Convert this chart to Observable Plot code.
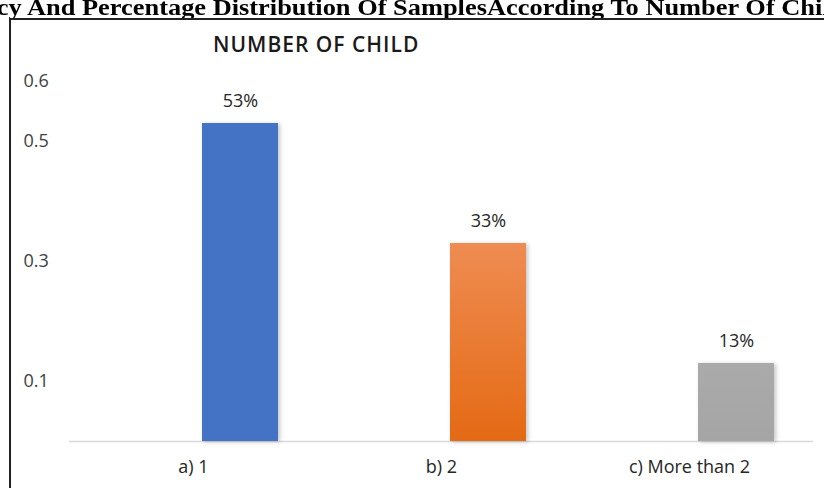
<!DOCTYPE html>
<html>
<head>
<meta charset="utf-8">
<script src="https://cdn.jsdelivr.net/npm/d3@7"></script>
<script src="https://cdn.jsdelivr.net/npm/@observablehq/plot@0.6"></script>
<style>
  html, body { margin: 0; padding: 0; background: #fff; }
  #page { position: relative; width: 824px; height: 488px; overflow: hidden; background: #fff; }
  #doc-title { position: absolute; top: -6px; white-space: nowrap; font-family: "Liberation Serif", "Times New Roman", serif; font-weight: bold; color: #000; transform-origin: 0 0; }
  #frame { position: absolute; left: 9px; top: 18px; width: 900px; height: 600px; border-left: 2px solid #222; border-top: 2px solid #222; box-sizing: border-box; }
  #chart-title { position: absolute; left: 213px; top: 30px; font-family: "Open Sans", sans-serif; font-weight: 600; font-size: 21px; letter-spacing: 1px; color: #1a1a1a; z-index: 2; white-space: nowrap; }
  #chart { position: absolute; left: 0; top: 0; z-index: 1; }
</style>
</head>
<body>
<div id="page">
  <div id="doc-title"></div>
  <div id="frame"></div>
  <div id="chart-title"></div>
  <div id="chart"></div>
</div>
<script>
// ---- data ----
const docTitle = "Frequency And Percentage Distribution Of SamplesAccording To Number Of Child";
const chartTitle = "NUMBER OF CHILD";
const categories = ["a) 1", "b) 2", "c) More than 2"];
const values = [0.53, 0.33, 0.13];
const valueLabels = ["53%", "33%", "13%"];
const yTickValues = [0.1, 0.3, 0.5, 0.6];

// ---- styles ----
const barFills = ["#4472C4", "url(#gradOrange)", "url(#gradGray)"];

const data = categories.map((c, i) => ({cat: c, value: values[i], label: valueLabels[i], fill: barFills[i]}));

// Document title (cropped at both sides, like the reference)
const dt = document.getElementById("doc-title");
const fontSize = 24;
const stretch = 1.1;
dt.style.fontSize = fontSize + "px";
dt.textContent = docTitle;
const ctx = document.createElement("canvas").getContext("2d");
ctx.font = `bold ${fontSize}px "Liberation Serif"`;
const offset = (ctx.measureText("Frequen").width + 3) * stretch;
dt.style.left = (-offset) + "px";
dt.style.transform = `scaleX(${stretch})`;

document.getElementById("chart-title").textContent = chartTitle;

const plot = Plot.plot({
  width: 824,
  height: 488,
  marginLeft: 69,
  marginRight: 11,
  marginTop: 81,
  marginBottom: 47,
  x: {type: "band", domain: categories, padding: 0, label: null},
  y: {domain: [0, 0.6], label: null},
  color: {type: "identity"},
  style: {fontFamily: "'Open Sans', sans-serif", fontSize: "18px", color: "#404040", background: "transparent"},
  marks: [
    Plot.ruleY([0], {stroke: "#d9d9d9", strokeWidth: 1.5}),
    Plot.barY(data, {x: "cat", y: "value", fill: "fill", insetLeft: 133, insetRight: 39}),
    Plot.text(data, {x: "cat", y: "value", text: "label", dx: 47, dy: -22, fill: "#262626", fontSize: 18}),
    Plot.axisX({tickSize: 0, tickPadding: 19, fontSize: 18, fill: "#262626"}),
    Plot.axisY({ticks: yTickValues, tickSize: 0, tickPadding: 46, textAnchor: "start", fontSize: 18, tickFormat: d => d.toFixed(1), fill: "#404040"})
  ]
});

// gradients and subtle shadow
const svgNS = "http://www.w3.org/2000/svg";
const defs = document.createElementNS(svgNS, "defs");
defs.innerHTML = `
  <linearGradient id="gradOrange" x1="0" y1="0" x2="0" y2="1">
    <stop offset="0" stop-color="#EF8C52"/>
    <stop offset="1" stop-color="#E46A14"/>
  </linearGradient>
  <linearGradient id="gradGray" x1="0" y1="0" x2="0" y2="1">
    <stop offset="0" stop-color="#AAAAAA"/>
    <stop offset="1" stop-color="#A5A5A5"/>
  </linearGradient>`;
plot.insertBefore(defs, plot.firstChild);
const barG = plot.querySelector('g[aria-label="bar"]');
if (barG) barG.style.filter = "drop-shadow(2px 1px 2px rgba(0,0,0,0.22))";

document.getElementById("chart").appendChild(plot);
</script>
</body>
</html>
